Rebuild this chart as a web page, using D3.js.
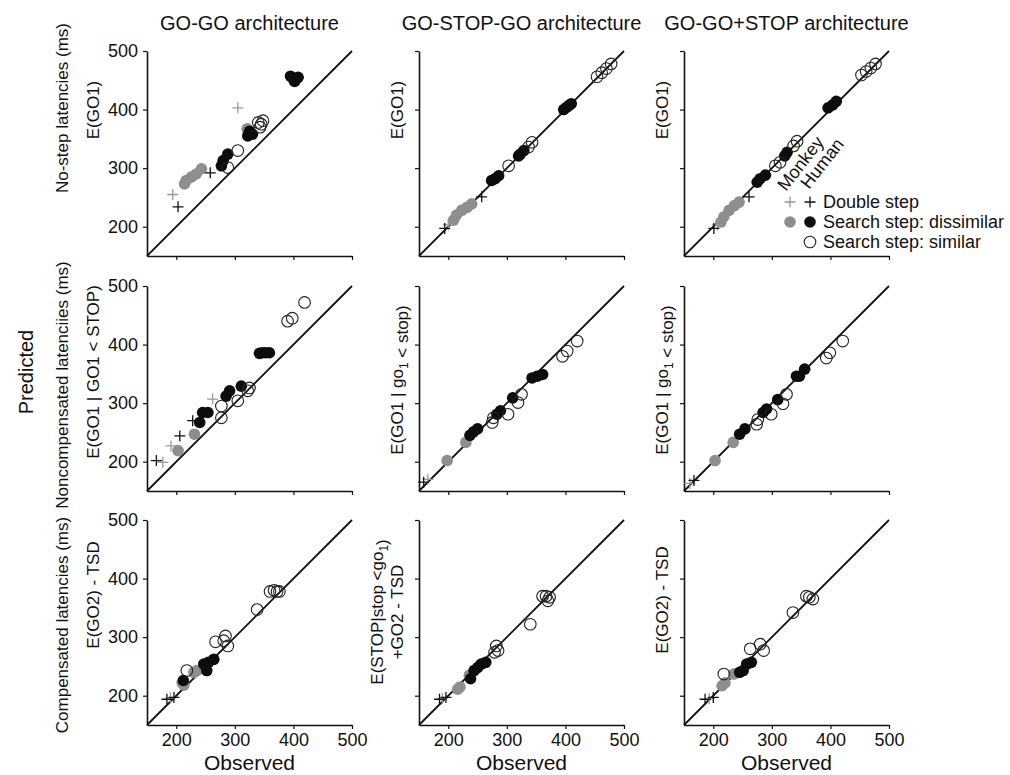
<!DOCTYPE html>
<html><head><meta charset="utf-8">
<script src="https://cdn.jsdelivr.net/npm/d3@7"></script>
<style>
body{margin:0;background:#fff}
text{font-family:"Liberation Sans",Arial,Helvetica,sans-serif;fill:#111}
</style>
</head><body>
<svg id="fig" width="1010" height="775"></svg>
<script>
// ---- data: [series, observed, predicted] ----
// series: dm = double step (monkey), dh = double step (human),
//         fm = search dissimilar (monkey), fh = search dissimilar (human), o = search similar
const goGo_noStep = [
  ["fm",214,273],["fm",217,279],["fm",226,285],["fm",234,290],["fm",243,299],["fm",321,367],
  ["fh",277,304],["fh",280,313],["fh",288,324],["fh",322,355],["fh",325,363],["fh",330,358],
  ["fh",395,457],["fh",402,448],["fh",408,455],["fh",400,452],
  ["o",288,301],["o",305,330],["o",340,378],["o",345,375],["o",348,381],["o",343,370],
  ["dm",194,255],["dm",305,403],["dh",203,234],["dh",258,292]
];
const goStopGo_noStep = [
  ["fm",209,211],["fm",214,220],["fm",223,228],["fm",232,233],["fm",240,239],
  ["fh",397,400],["fh",402,404],["fh",406,407],["fh",410,410],["fh",320,321],["fh",323,324],
  ["fh",329,330],["fh",274,279],["fh",280,282],["fh",286,287],
  ["o",454,456],["o",462,463],["o",470,470],["o",478,478],["o",343,344],["o",337,336],["o",303,304],
  ["dm",200,203],["dh",257,251],["dh",194,197]
];
const goGoStop_noStep = [
  ["fm",213,208],["fm",218,217],["fm",227,228],["fm",236,236],["fm",244,242],
  ["fh",396,403],["fh",404,408],["fh",410,414],["fh",322,321],["fh",326,327],["fh",275,276],
  ["fh",280,282],["fh",289,288],
  ["o",453,459],["o",461,465],["o",469,471],["o",477,478],["o",343,346],["o",337,338],["o",306,304],["o",314,310],
  ["dm",207,203],["dh",261,251],["dh",201,197]
];
const goGo_noncomp = [
  ["fm",231,247],["fm",203,219],
  ["fh",342,385],["fh",347,386],["fh",353,386],["fh",359,386],["fh",311,329],["fh",291,321],
  ["fh",285,312],["fh",254,284],["fh",245,284],["fh",240,267],
  ["o",390,440],["o",398,445],["o",419,472],["o",325,326],["o",322,321],["o",305,304],["o",277,295],["o",277,275],
  ["dm",262,307],["dm",191,227],["dm",177,199],["dh",228,270],["dh",206,244],["dh",166,202]
];
const goStopGo_noncomp = [
  ["fm",230,233],["fm",198,202],
  ["fh",352,346],["fh",361,349],["fh",343,343],["fh",310,309],["fh",289,287],["fh",283,281],
  ["fh",250,256],["fh",243,251],["fh",237,245],
  ["o",420,406],["o",403,389],["o",395,380],["o",325,315],["o",319,301],["o",302,281],["o",275,267],["o",277,275],
  ["dm",165,170],["dh",158,165]
];
const goGoStop_noncomp = [
  ["fm",234,233],["fm",203,202],
  ["fh",356,358],["fh",347,346],["fh",342,346],["fh",310,306],["fh",291,290],["fh",285,284],
  ["fh",254,256],["fh",245,247],
  ["o",421,406],["o",399,386],["o",393,377],["o",325,315],["o",319,299],["o",299,281],["o",276,272],["o",274,264],
  ["dm",160,163],["dh",167,168]
];
const goGo_comp = [
  ["fm",235,243],["fm",230,240],["fm",213,218],["fm",210,222],
  ["fh",264,262],["fh",255,257],["fh",247,254],["fh",252,243],["fh",212,226],
  ["o",360,378],["o",367,380],["o",372,378],["o",376,378],["o",338,347],["o",284,302],["o",281,294],
  ["o",267,292],["o",288,285],["o",218,243],
  ["dm",190,196],["dh",184,194],["dh",196,197]
];
const goStopGo_comp = [
  ["fm",236,235],["fm",216,211],["fm",220,215],
  ["fh",256,254],["fh",264,257],["fh",244,243],["fh",238,229],["fh",250,248],
  ["o",361,370],["o",367,370],["o",373,368],["o",370,362],["o",340,322],["o",282,285],["o",279,274],["o",285,277],
  ["dm",190,195],["dh",185,194],["dh",196,197]
];
const goGoStop_comp = [
  ["fm",235,237],["fm",215,217],["fm",220,222],
  ["fh",257,254],["fh",265,257],["fh",251,243],["fh",245,240],
  ["o",359,370],["o",364,368],["o",370,365],["o",336,342],["o",280,288],["o",286,277],["o",263,280],["o",218,237],
  ["dm",193,195],["dh",186,194],["dh",200,197]
];

const architectures = ["GO-GO architecture", "GO-STOP-GO architecture", "GO-GO+STOP architecture"];
const latencyLabels = ["No-step latencies (ms)", "Noncompensated latenciies (ms)", "Compensated latencies (ms)"];
// {..} marks a subscript
const predictedLabels = [
  [["E(GO1)"], ["E(GO1)"], ["E(GO1)"]],
  [["E(GO1 | GO1 < STOP)"], ["E(GO1 | go{1} < stop)"], ["E(GO1 | go{1} < stop)"]],
  [["E(GO2) - TSD"], ["E(STOP|stop <go{1})", "+GO2 - TSD"], ["E(GO2) - TSD"]]
];
const tickValues = [200, 300, 400, 500];
const axisDomain = [150, 500];
const legendItems = [
  {label: "Double step", monkey: "dm", human: "dh"},
  {label: "Search step: dissimilar", monkey: "fm", human: "fh"},
  {label: "Search step: similar", monkey: null, human: "o"}
];

const panels = [
  [goGo_noStep, goStopGo_noStep, goGoStop_noStep],
  [goGo_noncomp, goStopGo_noncomp, goGoStop_noncomp],
  [goGo_comp, goStopGo_comp, goGoStop_comp]
];

// ---- layout ----
const colLeft = [147, 419, 684];
const rowTop = [51, 286, 520];
const size = 205;
// vertical centres of the rotated labels, per row / column
const predLabelY = [[110, 110, 110], [372, 380, 380], [595, 612, 600]];
const latLabelY = [108, 385, 625];
const grey = "#8e8e8e";
const R = 5.8, P = 5.5;

const svg = d3.select("#fig");

function drawMarker(g, type, x, y) {
  if (type === "dm" || type === "dh") {
    const col = type === "dm" ? "#999" : "#111";
    g.append("path")
      .attr("d", `M${x - P},${y}H${x + P}M${x},${y - P}V${y + P}`)
      .attr("stroke", col).attr("stroke-width", 1.3).attr("fill", "none");
  } else if (type === "fm" || type === "fh") {
    g.append("circle").attr("cx", x).attr("cy", y).attr("r", R)
      .attr("fill", type === "fm" ? grey : "#0d0d0d");
  } else {
    g.append("circle").attr("cx", x).attr("cy", y).attr("r", R)
      .attr("fill", "none").attr("stroke", "#222").attr("stroke-width", 1.1);
  }
}

function richText(sel, str, fs) {
  const parts = str.split(/(\{[^}]*\})/).filter(s => s.length);
  parts.forEach(p => {
    if (p[0] === "{") {
      sel.append("tspan").attr("font-size", fs * 0.7).attr("dy", fs * 0.3).text(p.slice(1, -1));
      sel.append("tspan").attr("dy", -fs * 0.3).text("");
    } else {
      sel.append("tspan").text(p);
    }
  });
}

const order = ["fm", "fh", "o", "dm", "dh"];

panels.forEach((row, ri) => {
  row.forEach((data, ci) => {
    const x = d3.scaleLinear().domain(axisDomain).range([colLeft[ci], colLeft[ci] + size]);
    const y = d3.scaleLinear().domain(axisDomain).range([rowTop[ri] + size, rowTop[ri]]);
    const g = svg.append("g");

    // axes
    const xa = g.append("g").attr("transform", `translate(0,${rowTop[ri] + size})`)
      .call(d3.axisBottom(x).tickValues(tickValues).tickSizeInner(4).tickSizeOuter(0).tickPadding(4)
        .tickFormat(ri === 2 ? d3.format("d") : () => ""));
    const ya = g.append("g").attr("transform", `translate(${colLeft[ci]},0)`)
      .call(d3.axisLeft(y).tickValues(tickValues).tickSizeInner(4).tickSizeOuter(0).tickPadding(5)
        .tickFormat(ci === 0 ? d3.format("d") : () => ""));
    [xa, ya].forEach(a => {
      a.select(".domain").attr("stroke", "#111").attr("stroke-width", 1.6);
      a.selectAll(".tick line").attr("stroke", "#111").attr("stroke-width", 1.2);
      a.selectAll(".tick text").attr("font-size", 18).attr("fill", "#111")
        .attr("font-family", '"Liberation Sans",Arial,sans-serif');
    });

    // identity line
    g.append("line")
      .attr("x1", x(axisDomain[0])).attr("y1", y(axisDomain[0]))
      .attr("x2", x(axisDomain[1])).attr("y2", y(axisDomain[1]))
      .attr("stroke", "#111").attr("stroke-width", 1.8);

    // markers
    const mg = g.append("g");
    order.forEach(s => {
      data.filter(d => d[0] === s).forEach(d => drawMarker(mg, s, x(d[1]), y(d[2])));
    });

    // predicted-quantity label
    const lines = predictedLabels[ri][ci];
    const baseX = ci === 0 ? 99 : colLeft[ci] - 16 - (lines.length - 1) * 20;
    lines.forEach((ln, li) => {
      const t = svg.append("text")
        .attr("transform", `translate(${baseX + li * 20},${predLabelY[ri][ci]}) rotate(-90)`)
        .attr("text-anchor", "middle").attr("font-size", 17);
      richText(t, ln, 17);
    });
  });
});

// column titles
architectures.forEach((t, ci) => {
  svg.append("text").attr("x", colLeft[ci] + size / 2).attr("y", 30)
    .attr("text-anchor", "middle").attr("font-size", 20).text(t);
});

// row labels
latencyLabels.forEach((t, ri) => {
  svg.append("text")
    .attr("transform", `translate(68,${latLabelY[ri]}) rotate(-90)`)
    .attr("text-anchor", "middle").attr("font-size", 17).text(t);
});

// shared axis titles
svg.append("text").attr("transform", `translate(33,372) rotate(-90)`)
  .attr("text-anchor", "middle").attr("font-size", 20).text("Predicted");
colLeft.forEach(l => {
  svg.append("text").attr("x", l + size / 2).attr("y", 770)
    .attr("text-anchor", "middle").attr("font-size", 21).text("Observed");
});

// legend
const lg = svg.append("g");
const lgX = [790, 810], lgY = [202, 222, 242];
legendItems.forEach((it, i) => {
  if (it.monkey) drawMarker(lg, it.monkey, lgX[0], lgY[i]);
  drawMarker(lg, it.human, lgX[1], lgY[i]);
  lg.append("text").attr("x", 823).attr("y", lgY[i] + 6).attr("font-size", 18).text(it.label);
});
lg.append("text").attr("transform", `translate(786,192) rotate(-52)`).attr("font-size", 18).text("Monkey");
lg.append("text").attr("transform", `translate(809,190) rotate(-52)`).attr("font-size", 18).text("Human");
</script>
</body></html>
